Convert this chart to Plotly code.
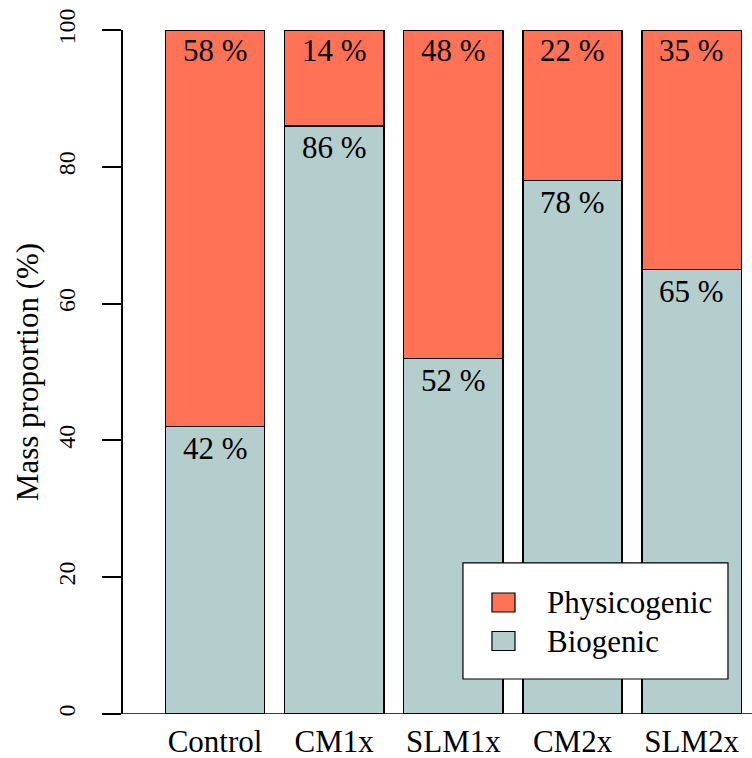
import plotly.graph_objects as go

# Mass proportions (%) of aggregate origin per treatment
categories = ["Control", "CM1x", "SLM1x", "CM2x", "SLM2x"]
biogenic = [42, 86, 52, 78, 65]
physicogenic = [58, 14, 48, 22, 35]
series_names = ["Physicogenic", "Biogenic"]
y_ticks = [0, 20, 40, 60, 80, 100]

COL_PHYS = "#FF7256"
COL_BIO = "#B4CDCD"
FONT = "Liberation Serif"
BIG = 31
SMALL = 24

fig = go.Figure()
fig.add_trace(go.Bar(
    x=categories, y=biogenic, name=series_names[1],
    marker=dict(color=COL_BIO, line=dict(color="black", width=1.5)),
    showlegend=False, hoverinfo="x+y",
))
fig.add_trace(go.Bar(
    x=categories, y=physicogenic, name=series_names[0],
    marker=dict(color=COL_PHYS, line=dict(color="black", width=1.5)),
    showlegend=False, hoverinfo="x+y",
))

annotations = []
# Percentage labels: physicogenic share near the top, biogenic share just under the split
for cat, b, p in zip(categories, biogenic, physicogenic):
    annotations.append(dict(x=cat, y=b + p - 3, xref="x", yref="y",
                            text=f"{p} %", showarrow=False,
                            yanchor="middle", xanchor="center",
                            font=dict(family=FONT, size=BIG, color="black")))
    annotations.append(dict(x=cat, y=b - 3.2, xref="x", yref="y",
                            text=f"{b} %", showarrow=False,
                            yanchor="middle", xanchor="center",
                            font=dict(family=FONT, size=BIG, color="black")))

# Legend box drawn in paper coordinates
shapes = [
    dict(type="line", xref="paper", yref="y", x0=-0.032, x1=1.0, y0=0, y1=0,
         line=dict(color="black", width=1.5), layer="above"),
    dict(type="rect", xref="paper", yref="paper", x0=0.5405, x1=0.9618,
         y0=0.0512, y1=0.2208, fillcolor="white",
         line=dict(color="black", width=1.2), layer="above"),
]
legend_rows = [(series_names[0], COL_PHYS, 0.1630), (series_names[1], COL_BIO, 0.1067)]
for name, col, yc in legend_rows:
    shapes.append(dict(type="rect", xref="paper", yref="paper",
                       x0=0.5866, x1=0.6232, y0=yc - 0.0139, y1=yc + 0.0139,
                       fillcolor=col, line=dict(color="black", width=1.2),
                       layer="above"))
    annotations.append(dict(x=0.6709, y=yc, xref="paper", yref="paper",
                            text=name, showarrow=False, xanchor="left",
                            yanchor="middle",
                            font=dict(family=FONT, size=BIG, color="black")))

fig.update_layout(
    width=752, height=758,
    margin=dict(l=123, r=0, t=30, b=44, autoexpand=False),
    paper_bgcolor="white", plot_bgcolor="white",
    barmode="stack", bargap=1 / 6,
    font=dict(family=FONT, color="black"),
    shapes=shapes, annotations=annotations,
    showlegend=False,
)
fig.update_xaxes(
    type="category", range=[-0.772, 4.506],
    showline=False, showgrid=False, zeroline=False, ticks="",
    tickfont=dict(family=FONT, size=BIG, color="black"),
    ticklabelstandoff=6,
)
fig.update_yaxes(
    range=[0, 100], tickvals=y_ticks, ticktext=[str(t) for t in y_ticks],
    showline=True, linecolor="black", linewidth=1.5,
    ticks="outside", ticklen=19, tickwidth=1.5, tickcolor="black",
    tickangle=-90, tickfont=dict(family=FONT, size=SMALL, color="black"),
    ticklabelstandoff=18,
    showgrid=False, zeroline=False,
    title=dict(text="Mass proportion (%)", standoff=6,
               font=dict(family=FONT, size=BIG, color="black")),
)

fig.write_html("out.html")
